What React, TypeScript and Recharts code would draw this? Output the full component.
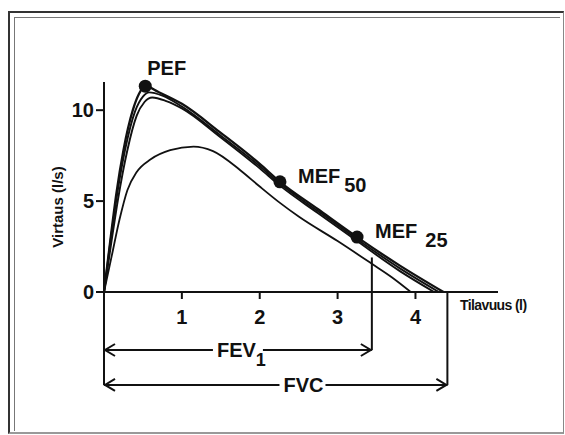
import { ComposedChart, Line, XAxis, YAxis, ReferenceLine, ReferenceDot } from "recharts"

const font = "Arial, 'Liberation Sans', sans-serif"
const ink = "#111"

// volume (l) / flow (l/s) pairs
const volA = [0, 0.08, 0.16, 0.25, 0.37, 0.45, 0.53, 0.7, 1.0, 1.5, 2.0, 2.26, 2.75, 3.25, 3.8, 4.36]
const flowA = [0, 2.8, 5.45, 7.8, 10.0, 10.9, 11.32, 11.0, 10.35, 8.75, 7.05, 6.06, 4.55, 3.02, 1.45, 0]

const volB = [0, 0.08, 0.17, 0.27, 0.4, 0.5, 0.58, 0.75, 1.0, 1.5, 2.0, 2.26, 2.75, 3.25, 3.8, 4.3]
const flowB = [0, 2.7, 5.4, 7.8, 9.95, 10.75, 10.98, 10.8, 10.2, 8.6, 6.92, 5.95, 4.44, 2.9, 1.3, 0]

const volC = [0, 0.09, 0.18, 0.3, 0.42, 0.52, 0.62, 0.8, 1.0, 1.5, 2.0, 2.26, 2.75, 3.25, 3.8, 4.24]
const flowC = [0, 2.6, 5.1, 7.8, 9.7, 10.45, 10.7, 10.5, 10.1, 8.5, 6.8, 5.85, 4.33, 2.8, 1.15, 0]

const volD = [0, 0.1, 0.2, 0.3, 0.42, 0.6, 0.85, 1.15, 1.4, 1.75, 2.0, 2.26, 2.5, 3.0, 3.44, 3.7, 3.94]
const flowD = [0, 2.0, 4.0, 5.6, 6.6, 7.3, 7.8, 8.0, 7.75, 6.7, 5.8, 4.9, 4.15, 2.8, 1.55, 0.8, 0]

// PEF, MEF50, MEF25
const markNames = ["PEF", "MEF", "MEF"]
const markSubs = ["", "50", "25"]
const markVol = [0.53, 2.26, 3.25]
const markFlow = [11.32, 6.06, 3.02]

const xTicks = [1, 2, 3, 4]
const yTicks = [0, 5, 10]

const fev1 = 3.44
const fev1Top = 1.9
const fvc = 4.41
const fevLevel = -3.19
const fvcLevel = -5.11

const pairs = (xs: number[], ys: number[]) => xs.map((x, i) => ({ x, y: ys[i] }))

const curves = [
  { data: pairs(volA, flowA), w: 2.3 },
  { data: pairs(volB, flowB), w: 1.9 },
  { data: pairs(volC, flowC), w: 1.9 },
  { data: pairs(volD, flowD), w: 1.8 },
]

function MarkDot(props: any) {
  const { cx, cy, name, sub } = props
  return (
    <g>
      <circle cx={cx} cy={cy} r={6.5} fill={ink} />
      {sub ? (
        <text x={cx + 18} y={cy + 1} fontFamily={font} fontWeight={700} fontSize={20} fill={ink}>
          {name}
          <tspan dx={sub === "25" ? 8 : 4} dy={9}>{sub}</tspan>
        </text>
      ) : (
        <text x={cx + 2} y={cy - 11} fontFamily={font} fontWeight={700} fontSize={20} fill={ink}>
          {name}
        </text>
      )}
    </g>
  )
}

function DimArrow(props: any) {
  const { x1, y1, x2, label, sub, at, gap } = props
  const y = y1
  const c = x1 + (x2 - x1) * at
  return (
    <g stroke={ink} strokeWidth={2} fill="none">
      <line x1={x1} y1={y} x2={c - gap} y2={y} />
      <line x1={c + gap} y1={y} x2={x2} y2={y} />
      <path d={`M${x1 + 11},${y - 6} L${x1 + 1},${y} L${x1 + 11},${y + 6}`} />
      <path d={`M${x2 - 11},${y - 6} L${x2 - 1},${y} L${x2 - 11},${y + 6}`} />
      <text
        x={c - gap + 4}
        y={y + 7}
        stroke="none"
        fill={ink}
        fontFamily={font}
        fontWeight={700}
        fontSize={20}
      >
        {label}
        {sub ? <tspan fontSize={18} dy={9}>{sub}</tspan> : null}
      </text>
    </g>
  )
}

const VLine = (p: any) => <line x1={p.x1} y1={p.y1} x2={p.x2} y2={p.y2} stroke={ink} strokeWidth={2} />

export default function App() {
  return (
    <div style={{ position: "absolute", left: 0, top: 0, width: 565, height: 435, background: "#fff", overflow: "hidden" }}>
      <div
        style={{
          position: "absolute",
          left: 8,
          top: 11,
          width: 556,
          height: 423,
          boxSizing: "border-box",
          border: "2px solid #333",
          borderBottom: "2px solid #999",
          borderRight: "1px solid #888",
        }}
      />
      <div
        style={{
          position: "absolute",
          left: 14,
          top: 17,
          width: 546,
          height: 414,
          boxSizing: "border-box",
          borderLeft: "1px solid #777",
          borderTop: "1px solid #777",
        }}
      />
      <div style={{ position: "absolute", left: 0, top: 0 }}>
        <ComposedChart width={565} height={435} margin={{ top: 82, right: 67, bottom: 113, left: 44 }}>
          <XAxis
            type="number"
            dataKey="x"
            domain={[0, 5.06]}
            ticks={xTicks}
            allowDataOverflow
            height={30}
            tickSize={7}
            tickMargin={11}
            axisLine={{ stroke: ink, strokeWidth: 2 }}
            tickLine={{ stroke: ink, strokeWidth: 2 }}
            tick={{ fill: ink, fontSize: 20, fontWeight: 700, fontFamily: font }}
            label={{
              content: (p: any) => {
                const vb = p.viewBox || { x: 104, y: 292, width: 394 }
                return (
                  <text
                    x={vb.x + vb.width - 38}
                    y={vb.y + 18}
                    fontFamily={font}
                    fontWeight={700}
                    fontSize={14}
                    letterSpacing={-0.6}
                    fill={ink}
                  >
                    Tilavuus (l)
                  </text>
                )
              },
            }}
          />
          <YAxis
            type="number"
            dataKey="y"
            domain={[0, 11.55]}
            ticks={yTicks}
            allowDataOverflow
            width={60}
            tickSize={8}
            tickMargin={2}
            axisLine={{ stroke: ink, strokeWidth: 2 }}
            tickLine={{ stroke: ink, strokeWidth: 2 }}
            tick={{ fill: ink, fontSize: 20, fontWeight: 700, fontFamily: font }}
            label={{
              content: (p: any) => {
                const vb = p.viewBox || { x: 44, y: 82 }
                const x = vb.x + 13
                const y = vb.y + 125
                return (
                  <text
                    x={x}
                    y={y}
                    transform={`rotate(-90 ${x} ${y})`}
                    textAnchor="middle"
                    dominantBaseline="central"
                    fontFamily={font}
                    fontWeight={700}
                    fontSize={15}
                    fill={ink}
                  >
                    Virtaus (l/s)
                  </text>
                )
              },
            }}
          />
          {curves.map((c, i) => (
            <Line
              key={i}
              data={c.data}
              dataKey="y"
              type="monotone"
              stroke={ink}
              strokeWidth={c.w}
              dot={false}
              activeDot={false}
              isAnimationActive={false}
            />
          ))}
          <ReferenceLine
            segment={[{ x: 0, y: 0 }, { x: 0, y: fvcLevel }]}
            ifOverflow="visible"
            shape={VLine}
          />
          <ReferenceLine
            segment={[{ x: fev1, y: fev1Top }, { x: fev1, y: fevLevel }]}
            ifOverflow="visible"
            shape={VLine}
          />
          <ReferenceLine
            segment={[{ x: fvc, y: 0 }, { x: fvc, y: fvcLevel }]}
            ifOverflow="visible"
            shape={VLine}
          />
          <ReferenceLine
            segment={[{ x: 0, y: fevLevel }, { x: fev1, y: fevLevel }]}
            ifOverflow="visible"
            shape={(p: any) => <DimArrow {...p} label="FEV" sub="1" at={0.5} gap={25} />}
          />
          <ReferenceLine
            segment={[{ x: 0, y: fvcLevel }, { x: fvc, y: fvcLevel }]}
            ifOverflow="visible"
            shape={(p: any) => <DimArrow {...p} label="FVC" at={0.578} gap={23} />}
          />
          {markNames.map((n, i) => (
            <ReferenceDot
              key={i}
              x={markVol[i]}
              y={markFlow[i]}
              ifOverflow="visible"
              shape={(p: any) => <MarkDot {...p} name={n} sub={markSubs[i]} />}
            />
          ))}
        </ComposedChart>
      </div>
    </div>
  )
}
